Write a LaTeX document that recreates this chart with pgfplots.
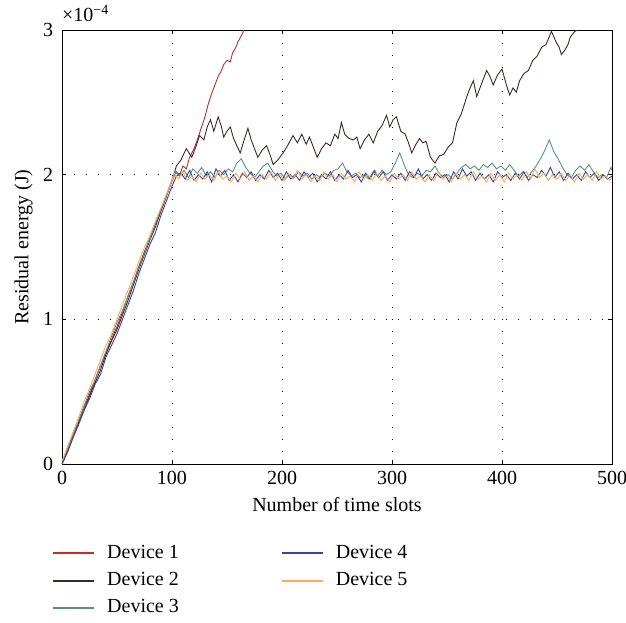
\documentclass[border=0pt]{standalone}
\usepackage{fontspec}
\setmainfont{Liberation Serif}
\usepackage{pgfplots}
\pgfplotsset{compat=1.18}

\definecolor{dev1}{RGB}{200,45,35}
\definecolor{dev2}{RGB}{65,40,40}
\definecolor{dev3}{RGB}{90,145,135}
\definecolor{dev4}{RGB}{55,65,175}
\definecolor{dev5}{RGB}{255,170,85}

\begin{document}
\fontsize{20}{24}\selectfont
\begin{tikzpicture}
\useasboundingbox (-62pt,-158pt) rectangle (564pt,464pt);
\begin{axis}[
    at={(0,0)}, anchor=south west,
    scale only axis,
    width=550pt, height=434pt,
    xmin=0, xmax=500, ymin=0, ymax=3,
    xtick={0,100,...,500},
    ytick={0,1,2,3},
    grid=major,
    major grid style={black, line width=0.6pt, dash pattern=on 1pt off 11pt},
    tick style={black, line width=0.6pt},
    major tick length=4pt,
    axis line style={black, line width=0.8pt},
    tick align=inside,
    /pgf/number format/assume math mode=true,
    ticklabel style={font=\fontsize{20}{24}\selectfont},
    yticklabel style={xshift=-2pt},
    label style={font=\fontsize{20}{24}\selectfont},
    ylabel style={yshift=-3pt},
    xlabel={Number of time slots},
    ylabel={Residual energy (J)},
    legend columns=2,
    legend cell align=left,
    legend image code/.code={\draw[#1] (0pt,0pt) -- (41pt,0pt);},
    legend style={draw=none, at={(0,0)}, anchor=north west,
        xshift=-13pt, yshift=-77pt,
        font=\fontsize{20}{24}\selectfont,
        row sep=7pt,
        /tikz/column 1/.style={column sep=10pt},
        /tikz/column 2/.style={column sep=100pt},
        /tikz/column 3/.style={column sep=10pt}},
    every axis plot/.append style={line width=0.9pt},
]
% Device 1
\addplot[dev1, forget plot] coordinates {
(0,0) (5,0.1) (10,0.2) (15,0.29) (20,0.39) (25,0.48) (30,0.58) (35,0.68) (40,0.77)
(45,0.86) (50,0.95) (55,1.05) (60,1.16) (65,1.26) (70,1.37) (75,1.47) (80,1.56)
(85,1.66) (90,1.76) (95,1.86) (100,1.96) (104,2.02) (107,2.0) (110,2.06) (113,2.04)
(116,2.12) (120,2.18) (123,2.24) (126,2.31) (130,2.4) (133,2.49) (136,2.56) (139,2.62)
(142,2.68) (145,2.72) (147,2.76) (150,2.79) (153,2.78) (155,2.84) (158,2.88) (160,2.92)
(163,2.96) (166,3.01) (168,3.05)
};
% Device 2
\addplot[dev2, forget plot] coordinates {
(0,0) (5,0.09) (10,0.19) (15,0.28) (20,0.37) (25,0.47) (30,0.56) (35,0.65) (40,0.76)
(45,0.85) (50,0.93) (55,1.03) (60,1.13) (65,1.24) (70,1.35) (75,1.45) (80,1.55)
(85,1.64) (90,1.75) (95,1.85) (100,1.96) (104,2.06) (108,2.1) (113,2.18) (118,2.12)
(122,2.2) (125,2.27) (129,2.24) (132,2.33) (135,2.38) (138,2.3) (142,2.40) (145,2.33)
(147,2.26) (150,2.3) (153,2.33) (156,2.25) (159,2.2) (162,2.15) (166,2.25) (169,2.32)
(172,2.24) (175,2.18) (178,2.12) (182,2.17) (186,2.2) (189,2.14) (192,2.07) (196,2.1)
(201,2.15) (205,2.2) (210,2.27) (214,2.22) (218,2.28) (222,2.21) (225,2.26) (228,2.2)
(232,2.12) (236,2.18) (240,2.22) (244,2.2) (248,2.28) (251,2.25) (254,2.36) (257,2.28)
(261,2.25) (265,2.24) (268,2.26) (271,2.18) (275,2.24) (279,2.28) (283,2.22) (287,2.3)
(291,2.34) (295,2.41) (298,2.33) (301,2.38) (304,2.40) (308,2.3) (312,2.28) (315,2.22)
(318,2.15) (321,2.2) (325,2.25) (328,2.22) (331,2.23) (335,2.12) (339,2.08) (343,2.13)
(347,2.14) (351,2.19) (355,2.22) (359,2.36) (363,2.42) (368,2.54) (371,2.6) (374,2.65)
(377,2.54) (381,2.62) (386,2.72) (389,2.68) (392,2.62) (396,2.69) (400,2.73) (404,2.62)
(407,2.55) (410,2.6) (413,2.57) (416,2.65) (420,2.7) (424,2.72) (428,2.79) (432,2.82)
(436,2.88) (440,2.9) (445,2.99) (449,2.92) (452,2.88) (454,2.83) (457,2.86) (460,2.9)
(462,2.95) (466,2.99) (469,3.0) (472,3.05)
};
% Device 3
\addplot[dev3, forget plot] coordinates {
(0,0) (5,0.1) (10,0.2) (15,0.3) (20,0.4) (25,0.5) (30,0.58) (35,0.68) (40,0.78)
(45,0.88) (50,0.98) (55,1.06) (60,1.16) (65,1.26) (70,1.36) (75,1.46) (80,1.56)
(85,1.66) (90,1.76) (95,1.86) (100,1.96) (103,2.02)
(107,1.99) (111,2.03) (115,1.98) (119,2.04) (123,2.01) (127,2.05) (131,1.99) (135,2.02)
(139,1.98) (143,2.03) (147,2.00) (151,2.04) (155,2.02) (159,2.08) (163,2.11) (167,2.05)
(171,2.01) (175,1.98) (179,2.02) (183,2.06) (187,2.08) (191,2.03) (195,1.99) (199,2.01)
(203,1.97) (207,2.00) (211,1.98) (215,2.02) (219,1.99) (223,2.01) (227,1.97) (231,2.00)
(235,1.98) (239,2.01) (243,1.99) (247,2.03) (251,2.04) (255,2.08) (259,2.02) (263,1.99)
(267,2.01) (271,1.98) (275,2.00) (279,1.97) (283,2.02) (287,1.99) (291,2.03) (295,2.00)
(299,2.02) (303,2.08) (307,2.15) (311,2.07) (315,2.00) (319,1.98) (323,2.01) (327,1.99)
(331,2.03) (335,2.02) (339,2.06) (343,2.01) (347,1.98) (351,2.00) (355,1.97) (359,2.01)
(363,2.05) (367,2.07) (371,2.04) (375,2.06) (379,2.03) (383,2.07) (387,2.05) (391,2.08)
(395,2.04) (399,2.06) (403,2.03) (407,2.07) (411,2.03) (415,1.99) (419,2.02) (423,1.98)
(427,2.02) (431,2.06) (435,2.11) (439,2.17) (443,2.24) (447,2.16) (451,2.11) (455,2.05)
(459,2.00) (463,1.98) (467,2.03) (471,2.06) (475,2.03) (479,2.07) (483,2.02) (487,1.98)
(491,2.00) (495,1.98) (499,2.05) (500,2.03)
};
% Device 4
\addplot[dev4, forget plot] coordinates {
(0,0) (5,0.08) (10,0.18) (15,0.27) (20,0.37) (25,0.45) (30,0.55) (35,0.62) (40,0.74)
(45,0.82) (50,0.9) (55,1.0) (60,1.1) (65,1.2) (70,1.32) (75,1.42) (80,1.52) (85,1.6)
(90,1.72) (95,1.82) (100,1.92) (104,1.99)
(108,2.01) (112,1.97) (116,2.03) (120,1.96) (124,2.00) (128,1.97) (132,2.02) (136,1.95)
(140,2.04) (144,1.99) (148,2.03) (152,1.96) (156,2.00) (160,1.95) (164,2.01) (168,1.98)
(172,2.02) (176,1.96) (180,2.00) (184,1.97) (188,2.03) (192,1.98) (196,2.01) (200,1.96)
(204,2.02) (208,1.97) (212,2.00) (216,1.96) (220,2.02) (224,1.98) (228,2.01) (232,1.95)
(236,2.00) (240,1.97) (244,2.02) (248,1.96) (252,2.00) (256,1.97) (260,2.03) (264,1.98)
(268,2.00) (272,1.95) (276,2.01) (280,1.97) (284,2.03) (288,1.98) (292,2.02) (296,1.96)
(300,2.00) (304,1.97) (308,2.01) (312,1.96) (316,2.02) (320,1.98) (324,2.04) (328,1.97)
(332,2.00) (336,1.96) (340,2.01) (344,1.98) (348,2.00) (352,1.95) (356,2.02) (360,1.97)
(364,2.04) (368,1.99) (372,2.02) (376,1.96) (380,2.01) (384,1.97) (388,2.00) (392,1.95)
(396,2.02) (400,1.98) (404,2.00) (408,1.96) (412,2.01) (416,1.97) (420,2.02) (424,1.96)
(428,2.00) (432,1.98) (436,2.03) (440,1.99) (444,2.05) (448,1.98) (452,2.02) (456,1.96)
(460,2.01) (464,1.97) (468,2.00) (472,1.96) (476,2.02) (480,1.98) (484,2.01) (488,1.96)
(492,2.00) (496,1.97) (500,1.99)
};
% Device 5
\addplot[dev5, forget plot] coordinates {
(0,0.02) (5,0.12) (10,0.22) (15,0.32) (20,0.43) (25,0.52) (30,0.62) (35,0.72) (40,0.82)
(45,0.9) (50,1.0) (55,1.1) (60,1.2) (65,1.3) (70,1.4) (75,1.5) (80,1.58) (85,1.68)
(90,1.77) (95,1.86) (100,1.96) (102,2.01)
(106,1.97) (110,2.02) (114,1.96) (118,1.99) (122,1.95) (126,2.01) (130,1.97) (134,2.00)
(138,1.96) (142,2.02) (146,1.97) (150,1.99) (154,1.95) (158,2.01) (162,1.97) (166,2.02)
(170,1.96) (174,1.99) (178,1.95) (182,2.00) (186,1.97) (190,2.02) (194,1.96) (198,2.00)
(202,1.96) (206,2.01) (210,1.97) (214,2.03) (218,1.97) (222,2.00) (226,1.95) (230,1.99)
(234,1.96) (238,2.02) (242,1.97) (246,2.00) (250,1.95) (254,2.01) (258,1.97) (262,1.99)
(266,1.95) (270,2.02) (274,1.97) (278,2.00) (282,1.96) (286,2.01) (290,1.96) (294,1.99)
(298,1.95) (302,2.01) (306,1.97) (310,2.00) (314,1.96) (318,2.02) (322,1.97) (326,1.99)
(330,1.95) (334,2.00) (338,1.96) (342,2.02) (346,1.97) (350,1.99) (354,1.95) (358,2.01)
(362,1.97) (366,2.00) (370,1.96) (374,2.02) (378,1.97) (382,1.99) (386,1.95) (390,2.01)
(394,1.96) (398,2.00) (402,1.95) (406,2.01) (410,1.97) (414,2.00) (418,1.96) (422,2.02)
(426,1.97) (430,2.04) (434,1.98) (438,2.01) (442,1.96) (446,2.00) (450,1.97) (454,2.01)
(458,1.96) (462,2.00) (466,1.95) (470,2.01) (474,1.97) (478,2.00) (482,1.96) (486,2.02)
(490,1.97) (494,1.99) (498,1.96) (500,1.98)
};
\addlegendimage{dev1, line width=2pt}\addlegendentry{Device 1}
\addlegendimage{dev4, line width=2pt}\addlegendentry{Device 4}
\addlegendimage{dev2, line width=2pt}\addlegendentry{Device 2}
\addlegendimage{dev5, line width=2pt}\addlegendentry{Device 5}
\addlegendimage{dev3, line width=2pt}\addlegendentry{Device 3}
\end{axis}
\node[anchor=south west, inner sep=0pt] at (0pt,442pt) {×10\textsuperscript{−4}};
\end{tikzpicture}
\end{document}
